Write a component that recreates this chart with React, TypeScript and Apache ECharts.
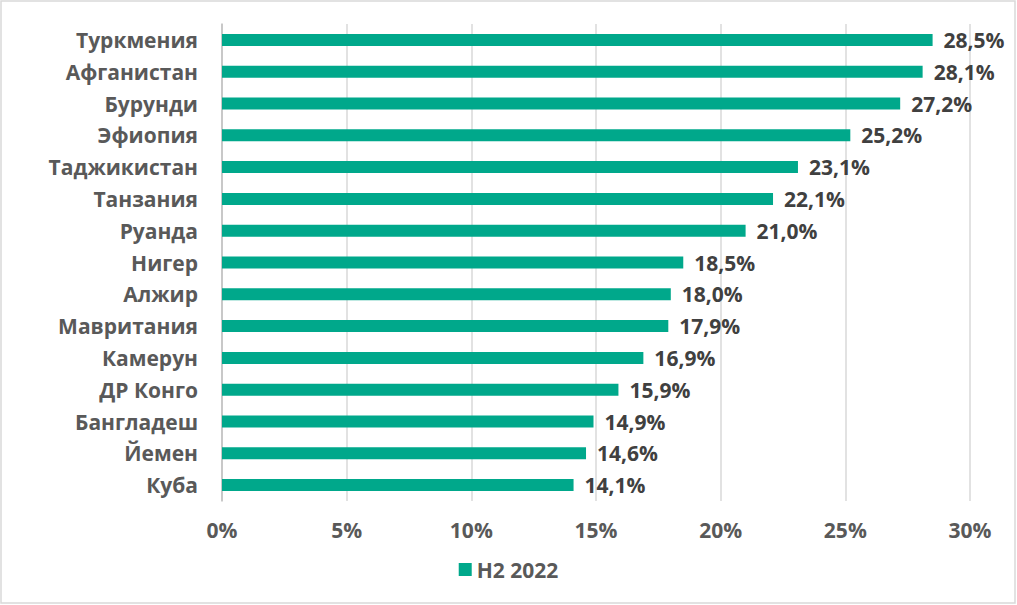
import React, { useEffect, useRef } from "react";
import * as echarts from "echarts";

const categories = [
  "Туркмения",
  "Афганистан",
  "Бурунди",
  "Эфиопия",
  "Таджикистан",
  "Танзания",
  "Руанда",
  "Нигер",
  "Алжир",
  "Мавритания",
  "Камерун",
  "ДР Конго",
  "Бангладеш",
  "Йемен",
  "Куба",
];
const values = [28.5, 28.1, 27.2, 25.2, 23.1, 22.1, 21.0, 18.5, 18.0, 17.9, 16.9, 15.9, 14.9, 14.6, 14.1];
const seriesName = "H2 2022";

const FONT = "'Open Sans', Lato, sans-serif";
const FS = 21;

export default function App() {
  const ref = useRef<HTMLDivElement>(null);
  useEffect(() => {
    if (!ref.current) return;
    const chart = echarts.init(ref.current, undefined, { renderer: "svg" });
    chart.setOption({
      animation: false,
      backgroundColor: "#ffffff",
      textStyle: { fontFamily: FONT },
      graphic: [
        {
          type: "rect",
          shape: { x: 1, y: 1, width: 1014, height: 602 },
          style: { fill: "none", stroke: "#d9d9d9", lineWidth: 1.5 },
          silent: true,
        },
      ],
      grid: { left: 222, right: 47, top: 24, bottom: 104, containLabel: false },
      xAxis: {
        type: "value",
        min: 0,
        max: 30,
        interval: 5,
        axisLine: { show: false },
        axisTick: { show: false },
        splitLine: { show: true, lineStyle: { color: "#d9d9d9", width: 1.5 } },
        axisLabel: {
          formatter: "{value}%",
          color: "#595959",
          fontSize: FS,
          fontWeight: "bold",
          fontFamily: FONT,
          margin: 18,
        },
      },
      yAxis: {
        type: "category",
        data: categories,
        inverse: true,
        axisLine: { show: true, lineStyle: { color: "#bfbfbf", width: 1.5 } },
        axisTick: { show: false },
        axisLabel: {
          color: "#595959",
          fontSize: FS,
          fontWeight: "bold",
          fontFamily: FONT,
          margin: 24,
        },
      },
      legend: {
        show: true,
        bottom: 20,
        left: "center",
        itemWidth: 13,
        itemHeight: 13,
        icon: "rect",
        itemGap: 10,
        textStyle: { color: "#595959", fontSize: FS, fontWeight: "bold", fontFamily: FONT },
        data: [seriesName],
      },
      series: [
        {
          name: seriesName,
          type: "bar",
          data: values,
          barWidth: 12,
          itemStyle: { color: "#00A88B" },
          label: {
            show: true,
            position: "right",
            distance: 11,
            color: "#404040",
            fontSize: FS,
            fontWeight: "bold",
            fontFamily: FONT,
            formatter: (p: any) => p.value.toFixed(1).replace(".", ",") + "%",
          },
        },
      ],
    });
    return () => chart.dispose();
  }, []);
  return (
    <div
      ref={ref}
      style={{ position: "fixed", left: 0, top: 0, width: 1017, height: 605 }}
    />
  );
}
